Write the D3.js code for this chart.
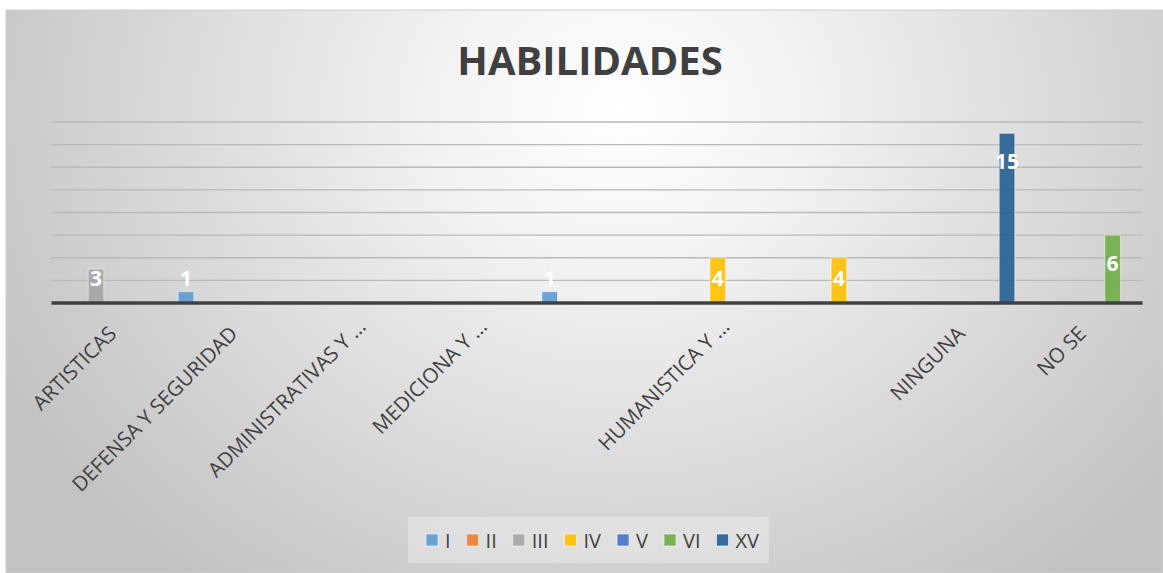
<!DOCTYPE html>
<html><head><meta charset="utf-8">
<script src="https://cdn.jsdelivr.net/npm/d3@7"></script>
<style>html,body{margin:0;padding:0;background:#fff;}svg{display:block;}</style>
</head><body>
<svg id="chart" width="1163" height="573"></svg>
<script>
const title = "HABILIDADES";
const categories = ["ARTISTICAS","DEFENSA Y SEGURIDAD","ADMINISTRATIVAS Y ...","MEDICIONA Y ...","","HUMANISTICA Y ...","","NINGUNA","NO SE"];
const seriesNames = ["I","II","III","IV","V","VI","XV"];
const seriesColors = ["#5B9BD5","#ED7D31","#A5A5A5","#FFC000","#4472C4","#70AD47","#255E91"];
const valuesI   = [null,1,null,null,1,null,null,null,null];
const valuesII  = [null,null,null,null,null,null,null,null,null];
const valuesIII = [3,null,null,null,null,null,null,null,null];
const valuesIV  = [null,null,null,null,null,4,4,null,null];
const valuesV   = [null,null,null,null,null,null,null,null,null];
const valuesVI  = [null,null,null,null,null,null,null,null,6];
const valuesXV  = [null,null,null,null,null,null,null,15,null];
const yTicks = [0,2,4,6,8,10,12,14,16];

const seriesValues = [valuesI,valuesII,valuesIII,valuesIV,valuesV,valuesVI,valuesXV];

const svg = d3.select("#chart");
const W = 1163, H = 573;

// background
const defs = svg.append("defs");
const grad = defs.append("radialGradient").attr("id","bg")
  .attr("gradientUnits","userSpaceOnUse").attr("cx",620).attr("cy",110).attr("r",700)
  .attr("gradientTransform","translate(620,110) scale(1,0.85) translate(-620,-110)");
grad.append("stop").attr("offset","0").attr("stop-color","#ffffff");
grad.append("stop").attr("offset","0.25").attr("stop-color","#f3f3f3");
grad.append("stop").attr("offset","1").attr("stop-color","#c2c2c2");
svg.append("rect").attr("x",6).attr("y",10).attr("width",W-6).attr("height",H-10)
  .attr("fill","url(#bg)").attr("stroke","#d0d0d0").attr("stroke-width",1);

const x = d3.scaleBand().domain(d3.range(categories.length)).range([51,1142]).padding(0);
const xs = d3.scaleBand().domain(d3.range(seriesNames.length)).range([6, x.bandwidth()-6]).padding(0);
const y = d3.scaleLinear().domain([0,16]).range([303,122]);

// gridlines
svg.append("g").selectAll("line").data(yTicks.filter(t=>t>0)).join("line")
  .attr("x1",51).attr("x2",1142).attr("y1",d=>y(d)).attr("y2",d=>y(d))
  .attr("stroke","#b9b9b9").attr("stroke-width",1.4);

// title
svg.append("text").attr("x",590).attr("y",75).attr("text-anchor","middle")
  .attr("font-family","'Open Sans'").attr("font-weight","bold").attr("font-size",40)
  .attr("fill","#404040").text(title);

// bars
const barData = [];
seriesValues.forEach((vals,si)=>vals.forEach((v,ci)=>{ if(v!=null) barData.push({si,ci,v}); }));
const bars = svg.append("g");
bars.selectAll("rect").data(barData).join("rect")
  .attr("x",d=>x(d.ci)+xs(d.si)).attr("width",xs.bandwidth())
  .attr("y",d=>y(d.v)).attr("height",d=>y(0)-y(d.v))
  .attr("fill",d=>seriesColors[d.si]).attr("fill-opacity",0.9)
  .attr("stroke","#ffffff").attr("stroke-opacity",0.5).attr("stroke-width",1);

// axis line
const xAxis = d3.axisBottom(x).tickSize(0).tickFormat(()=> "");
const ax = svg.append("g").attr("transform",`translate(0,${y(0)-0.5})`).call(xAxis);
ax.select(".domain").attr("stroke","#404040").attr("stroke-width",3.5);

// value labels
svg.append("g").selectAll("text").data(barData).join("text")
  .attr("x",d=>x(d.ci)+xs(d.si)+xs.bandwidth()/2)
  .attr("y",d=>Math.min(y(d.v)+28, y(0)-25))
  .attr("dy","0.36em").attr("text-anchor","middle")
  .attr("font-family","'Open Sans'").attr("font-weight","bold").attr("font-size",21)
  .attr("fill","#ffffff").text(d=>d.v);

// category labels
svg.append("g").selectAll("text").data(categories).join("text")
  .attr("transform",(d,i)=>{
    const extra = d.endsWith("...") ? 10 : 0;
    return `translate(${x(i)+x.bandwidth()/2+6+extra*0.707},${y(0)+32-extra*0.707}) rotate(-45)`;
  })
  .attr("text-anchor","end")
  .attr("font-family","'Open Sans'").attr("font-size",20.5)
  .attr("fill","#404040").text(d=>d);

// legend
const lg = svg.append("g");
lg.append("rect").attr("x",408).attr("y",517).attr("width",361).attr("height",46)
  .attr("fill","#ffffff").attr("fill-opacity",0.3);
let lx = 426;
seriesNames.forEach((n,i)=>{
  lg.append("rect").attr("x",lx).attr("y",534).attr("width",12).attr("height",12)
    .attr("fill",seriesColors[i]).attr("fill-opacity",0.9)
    .attr("stroke","#ffffff").attr("stroke-opacity",0.6).attr("stroke-width",1);
  const t = lg.append("text").attr("x",lx+19).attr("y",547.5)
    .attr("font-family","'Open Sans'").attr("font-size",20).attr("fill","#404040").text(n);
  lx = lx + 19 + t.node().getComputedTextLength() + 16;
});
</script>
</body></html>
